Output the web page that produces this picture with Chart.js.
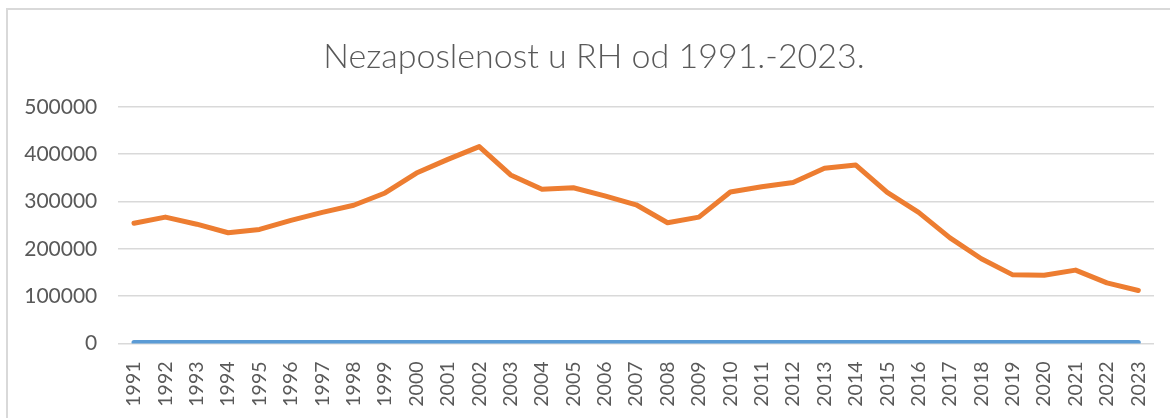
<!DOCTYPE html>
<html>
<head>
<meta charset="utf-8">
<script src="https://cdn.jsdelivr.net/npm/chart.js@4"></script>
<style>
  html, body { margin: 0; padding: 0; background: #ffffff; overflow: hidden; }
  #okvir { position: absolute; left: 6px; top: 8px; width: 1250px; height: 500px;
           border-left: 2px solid #d9d9d9; border-top: 2px solid #d9d9d9; }
  #omot { position: absolute; left: 0; top: 0; width: 1170px; height: 418px; }
</style>
</head>
<body>
<div id="okvir"></div>
<div id="omot"><canvas id="grafNezaposlenost"></canvas></div>
<script>
var godine = ['1991', '1992', '1993', '1994', '1995', '1996', '1997', '1998', '1999', '2000',
  '2001', '2002', '2003', '2004', '2005', '2006', '2007', '2008', '2009', '2010',
  '2011', '2012', '2013', '2014', '2015', '2016', '2017', '2018', '2019', '2020',
  '2021', '2022', '2023'];

// stupac s godinama je u izvorniku ucrtan kao zasebna serija (plava, uz samu nulu)
var serija_godina = [1991, 1992, 1993, 1994, 1995, 1996, 1997, 1998, 1999, 2000,
  2001, 2002, 2003, 2004, 2005, 2006, 2007, 2008, 2009, 2010,
  2011, 2012, 2013, 2014, 2015, 2016, 2017, 2018, 2019, 2020,
  2021, 2022, 2023];

var nezaposleni = [254000, 267000, 252000, 234000, 241000, 260000, 277000, 292000, 318000, 360000,
  389000, 416000, 356000, 326000, 329000, 312000, 293000, 255000, 267000, 320000,
  331000, 340000, 370000, 377000, 319000, 277000, 223000, 179000, 145000, 144000,
  155000, 128000, 112000];

var y_oznake = [0, 100000, 200000, 300000, 400000, 500000];

var tekst_boja = '#595959';
var mreza_boja = '#d9d9d9';

// naslov u Excelu je malo desno od sredine
var pomakni_naslov = {
  id: 'pomakni_naslov',
  afterLayout: function (chart) {
    if (chart.titleBlock) chart.titleBlock.left += 14;
  }
};

function create_chart_line (chart_id, graph_title) {
  var ctx = document.getElementById(chart_id).getContext('2d');

  var chartdata = {
    labels: godine,
    datasets: [{
      label: 'Godina',
      borderColor: '#5b9bd5',
      backgroundColor: '#5b9bd5',
      borderWidth: 5,
      data: serija_godina
    }, {
      label: 'Nezaposleni',
      borderColor: '#ed7d31',
      backgroundColor: '#ed7d31',
      borderWidth: 5,
      data: nezaposleni
    }]
  };

  var chart = new Chart(ctx, {
    type: 'line',
    data: chartdata,
    plugins: [pomakni_naslov],
    options: {
      responsive: true,
      maintainAspectRatio: false,
      animation: false,
      layout: { padding: { left: 20, right: 16, top: 0, bottom: 0 } },
      elements: {
        point: { radius: 0, hoverRadius: 0 },
        line: { tension: 0, borderCapStyle: 'round', borderJoinStyle: 'round' }
      },
      plugins: {
        legend: { display: false },
        tooltip: { enabled: false },
        title: {
          display: true,
          text: graph_title,
          color: tekst_boja,
          font: { family: 'Lato', size: 34, weight: 300 },
          padding: { top: 37, bottom: 29 }
        }
      },
      scales: {
        x: {
          offset: true,
          grid: { display: false, drawTicks: false },
          border: { display: false },
          afterFit: function (axis) {
            axis.height = 74.5;
            axis.paddingLeft = 0;
            axis.paddingRight = 0;
          },
          ticks: {
            color: tekst_boja,
            font: { family: 'Lato', size: 19.5 },
            minRotation: 90,
            maxRotation: 90,
            autoSkip: false,
            padding: 18
          }
        },
        y: {
          min: 0,
          max: 500000,
          afterBuildTicks: function (axis) {
            axis.ticks = y_oznake.map(function (v) { return { value: v }; });
          },
          afterFit: function (axis) { axis.width = 98.3; },
          grid: { color: mreza_boja, lineWidth: 1.5, drawTicks: false },
          border: { display: false },
          ticks: {
            color: tekst_boja,
            font: { family: 'Lato', size: 21 },
            padding: 21,
            callback: function (v) { return String(v); }
          }
        }
      }
    }
  });
}

create_chart_line('grafNezaposlenost', 'Nezaposlenost u RH od 1991.-2023.');
</script>
</body>
</html>
